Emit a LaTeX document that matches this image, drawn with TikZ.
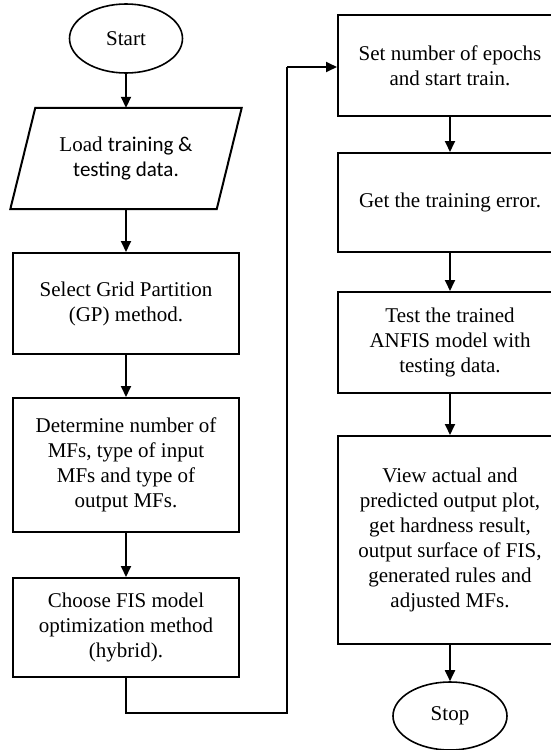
\documentclass[tikz,border=0pt]{standalone}
\usepackage{fontspec}
\setmainfont{Liberation Serif}
\newfontfamily\calfont{Carlito}
\usetikzlibrary{arrows.meta,shapes.geometric}
\begin{document}
\begin{tikzpicture}[x=1pt,y=-1pt,
  txt/.style={font=\fontsize{21}{25}\selectfont, align=center, inner sep=0pt},
  box/.style={txt, draw, line width=2pt, rectangle},
  term/.style={txt, draw, ellipse, line width=1.6pt, minimum width=113pt, minimum height=69pt},
  arr/.style={line width=1.8pt, -{Triangle[width=10pt,length=11pt]}},
  link/.style={line width=1.6pt}]
\useasboundingbox (0,0) rectangle (551,750);
\fill[white] (0,0) rectangle (551,750);
\clip (0,0) rectangle (551,750);
% left column
\node[term] (start) at (126,38.5) {Start};
\node[txt, minimum width=206pt, minimum height=101pt] (load) at (126,158.5)
  {Load {\calfont training \&}\\{\calfont testing data.}};
\draw[line width=2pt, line join=miter]
  ([xshift=12.5pt]load.north west) -- ([xshift=12.5pt]load.north east)
  -- ([xshift=-12.5pt]load.south east) -- ([xshift=-12.5pt]load.south west) -- cycle;
\node[box, minimum width=226pt, minimum height=101pt] (grid) at (126,303.5)
  {Select Grid Partition\\(GP) method.};
\node[box, minimum width=226pt, minimum height=134pt] (mfs) at (126,465)
  {Determine number of\\MFs, type of input\\MFs and type of\\output MFs.};
\node[box, minimum width=226pt, minimum height=99pt] (fis) at (126,627.5)
  {Choose FIS model\\optimization method\\(hybrid).};
% right column
\node[box, minimum width=224pt, minimum height=101pt] (epochs) at (450,65.5)
  {Set number of epochs\\and start train.};
\node[box, minimum width=224pt, minimum height=99pt] (err) at (450,202.5)
  {Get the training error.};
\node[box, minimum width=224pt, minimum height=101pt] (test) at (450,342.5)
  {Test the trained\\ANFIS model with\\testing data.};
\node[box, minimum width=224pt, minimum height=208pt] (view) at (450,540)
  {View actual and\\predicted output plot,\\get hardness result,\\output surface of FIS,\\generated rules and\\adjusted MFs.};
\node[term, minimum width=114pt, minimum height=68pt] (stop) at (450,716) {Stop};
% connectors
\draw[arr] (start.south) -- (load.north);
\draw[arr] (load.south) -- (grid.north);
\draw[arr] (grid.south) -- (mfs.north);
\draw[arr] (mfs.south) -- (fis.north);
\coordinate (c1) at (126,713);
\coordinate (c2) at (287,713);
\coordinate (c3) at (287,67);
\draw[link, line join=miter] (fis.south) -- (c1) -- (c2) -- (c3);
\draw[arr] (c3) -- (c3 -| epochs.west);
\draw[arr] (epochs.south) -- (err.north);
\draw[arr] (err.south) -- (test.north);
\draw[arr] (test.south) -- (view.north);
\draw[arr] (view.south) -- (stop.north);
\end{tikzpicture}
\end{document}
